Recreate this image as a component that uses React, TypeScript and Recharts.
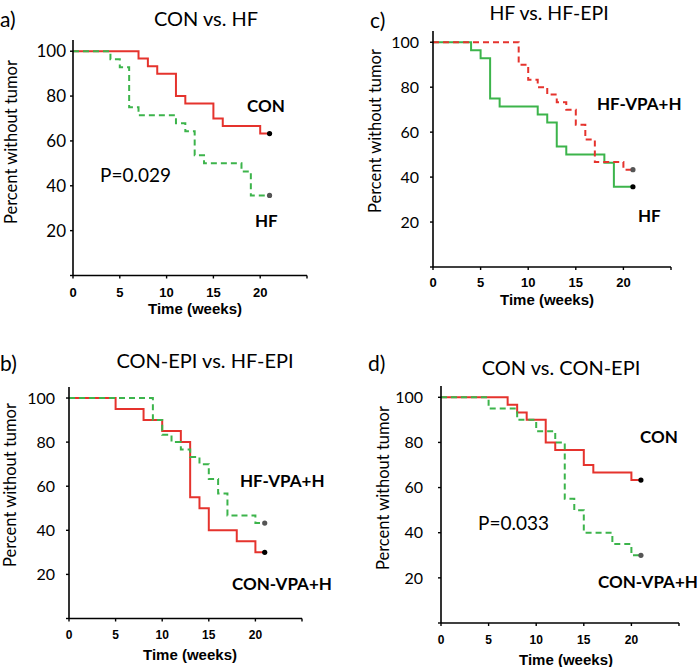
import React from 'react';
import { LineChart, Line, XAxis, YAxis } from 'recharts';

const xTicks = [0, 5, 10, 15, 20, 25];
const yTicks = [0, 20, 40, 60, 80, 100];

const conTimes = [0, 7, 8, 9, 11, 12, 15, 16, 20, 21];
const conValues = [100, 96.7, 93.3, 90, 80, 76.7, 70, 66.7, 63.3, 63.3];

const hfTimes = [0, 4, 5, 6, 7, 11, 12, 13, 14, 18, 19, 21];
const hfValues = [100, 96.4, 92.9, 75, 71.4, 67.9, 64.3, 53.6, 50, 46.4, 35.7, 35.7];

const hfEpiTimes = [0, 9, 10, 11, 12, 13, 14, 15, 16, 17, 20, 21];
const hfEpiValues = [100, 90, 83.3, 80, 76.7, 73.3, 70, 63.3, 56.7, 46.7, 43.3, 43.3];

const conEpiTimes = [0, 5, 8, 10, 12, 13, 14, 15, 18, 20, 21];
const conEpiValues = [100, 95, 90, 85, 80, 55, 50, 40, 35, 30, 30];

const RED = '#e5332d';
const GREEN = '#3cb44b';
const CAL = 'Lato, "Open Sans", sans-serif';
const ARIAL = '"Liberation Sans", Arial, sans-serif';

const toPoints = (times: number[], values: number[]) =>
  times.map((t, i) => ({ t, v: values[i] }));

const conPts = toPoints(conTimes, conValues);
const hfPts = toPoints(hfTimes, hfValues);
const hfEpiPts = toPoints(hfEpiTimes, hfEpiValues);
const conEpiPts = toPoints(conEpiTimes, conEpiValues);

const endDot = (fill: string, lastIndex: number) => (props: any) => {
  const { cx, cy, index } = props;
  if (index !== lastIndex) return <g key={`d${index}`} />;
  return <circle key={`d${index}`} cx={cx} cy={cy} r={2.6} fill={fill} stroke="none" />;
};

type S = { pts: { t: number; v: number }[]; color: string };

function Panel(p: {
  left: number; top: number; right: number; bottom: number;
  solid: S; dashed: S; yFont: number; yMargin: number; xFont: number; xMargin: number;
}) {
  const YW = 60, MT = 6, MR = 12, XH = 34;
  const plotW = p.right - p.left;
  const plotH = p.bottom - p.top;
  return (
    <div style={{ position: 'absolute', left: p.left - YW, top: p.top - MT }}>
      <LineChart
        width={plotW + YW + MR}
        height={plotH + MT + XH}
        margin={{ top: MT, right: MR, left: 0, bottom: 0 }}
      >
        <XAxis
          type="number"
          dataKey="t"
          domain={[0, 25]}
          ticks={xTicks}
          height={XH}
          tickSize={3}
          tickMargin={p.xMargin}
          axisLine={{ stroke: '#000', strokeWidth: 1.6 }}
          tickLine={{ stroke: '#000', strokeWidth: 1.4 }}
          tick={{ fill: '#000', fontSize: p.xFont, fontWeight: 700, fontFamily: ARIAL }}
          tickFormatter={(v: number) => (v === 25 ? '' : String(v))}
          allowDataOverflow
        />
        <YAxis
          type="number"
          dataKey="v"
          domain={[0, 105]}
          ticks={yTicks}
          width={YW}
          tickSize={3}
          tickMargin={p.yMargin}
          axisLine={{ stroke: '#000', strokeWidth: 1.6 }}
          tickLine={{ stroke: '#000', strokeWidth: 1.4 }}
          tick={{ fill: '#000', fontSize: p.yFont, fontFamily: CAL }}
          tickFormatter={(v: number) => (v === 0 ? '' : String(v))}
          allowDataOverflow
        />
        <Line
          data={p.solid.pts}
          dataKey="v"
          type="stepAfter"
          stroke={p.solid.color}
          strokeWidth={2}
          dot={endDot('#000', p.solid.pts.length - 1)}
          activeDot={false}
          isAnimationActive={false}
        />
        <Line
          data={p.dashed.pts}
          dataKey="v"
          type="stepAfter"
          stroke={p.dashed.color}
          strokeWidth={2}
          strokeDasharray="6 4"
          dot={endDot('#555', p.dashed.pts.length - 1)}
          activeDot={false}
          isAnimationActive={false}
        />
      </LineChart>
    </div>
  );
}

const T = (props: any) => <text fill="#000" fontFamily={CAL} {...props} />;
const YT = ({ x, y }: { x: number; y: number }) => (
  <text x={x} y={y} transform={`rotate(-90 ${x} ${y})`} textAnchor="middle"
    dominantBaseline="central" fontFamily={CAL} fontSize={16.5} fill="#000">
    Percent without tumor
  </text>
);
const XT = ({ x, y }: { x: number; y: number }) => (
  <text x={x} y={y} textAnchor="middle" fontFamily={ARIAL} fontWeight={700} fontSize={15} fill="#000">
    Time (weeks)
  </text>
);

export default function App() {
  return (
    <div style={{ position: 'absolute', left: 0, top: 0, width: 700, height: 667, background: '#fff', overflow: 'hidden' }}>
      {/* a */}
      <Panel left={73} right={307} top={40} bottom={275.5}
        solid={{ pts: conPts, color: RED }} dashed={{ pts: hfPts, color: GREEN }}
        yFont={17} yMargin={4} xFont={13} xMargin={9} />
      {/* c */}
      <Panel left={433} right={671} top={31} bottom={267}
        solid={{ pts: hfPts, color: GREEN }} dashed={{ pts: hfEpiPts, color: RED }}
        yFont={16} yMargin={11} xFont={13} xMargin={8} />
      {/* b */}
      <Panel left={69} right={302} top={387} bottom={618.5}
        solid={{ pts: conEpiPts, color: RED }} dashed={{ pts: hfEpiPts, color: GREEN }}
        yFont={16} yMargin={11} xFont={12} xMargin={9} />
      {/* d */}
      <Panel left={441} right={679} top={386} bottom={623}
        solid={{ pts: conPts, color: RED }} dashed={{ pts: conEpiPts, color: GREEN }}
        yFont={16} yMargin={15} xFont={12} xMargin={9} />

      <svg width={700} height={667} style={{ position: 'absolute', left: 0, top: 0, pointerEvents: 'none' }}>
        {/* panel a */}
        <T x={0} y={27} fontSize={21}>a)</T>
        <T x={206} y={26} fontSize={20} textAnchor="middle">CON vs. HF</T>
        <YT x={11} y={142} />
        <T x={100} y={182} fontSize={19}>P=0.029</T>
        <T x={247} y={112} fontSize={17} fontWeight={700}>CON</T>
        <T x={255} y={227} fontSize={17} fontWeight={700}>HF</T>
        <XT x={195} y={314} />

        {/* panel c */}
        <T x={370} y={28} fontSize={21}>c)</T>
        <T x={549} y={20} fontSize={19.5} textAnchor="middle">HF vs. HF-EPI</T>
        <YT x={375} y={131} />
        <T x={597} y={110} fontSize={17} fontWeight={700}>HF-VPA+H</T>
        <T x={638} y={222} fontSize={17} fontWeight={700}>HF</T>
        <XT x={547} y={305} />

        {/* panel b */}
        <T x={0} y={371} fontSize={21}>b)</T>
        <T x={205} y={368} fontSize={20} textAnchor="middle">CON-EPI vs. HF-EPI</T>
        <YT x={10} y={485} />
        <T x={240} y={487} fontSize={17} fontWeight={700}>HF-VPA+H</T>
        <T x={232} y={590} fontSize={17} fontWeight={700}>CON-VPA+H</T>
        <XT x={190} y={660} />

        {/* panel d */}
        <T x={368} y={371} fontSize={21}>d)</T>
        <T x={561} y={375} fontSize={20} textAnchor="middle">CON vs. CON-EPI</T>
        <YT x={383} y={488} />
        <T x={640} y={443} fontSize={17} fontWeight={700}>CON</T>
        <T x={478} y={530} fontSize={19}>P=0.033</T>
        <T x={598} y={588} fontSize={17} fontWeight={700}>CON-VPA+H</T>
        <XT x={566} y={665} />
      </svg>
    </div>
  );
}
